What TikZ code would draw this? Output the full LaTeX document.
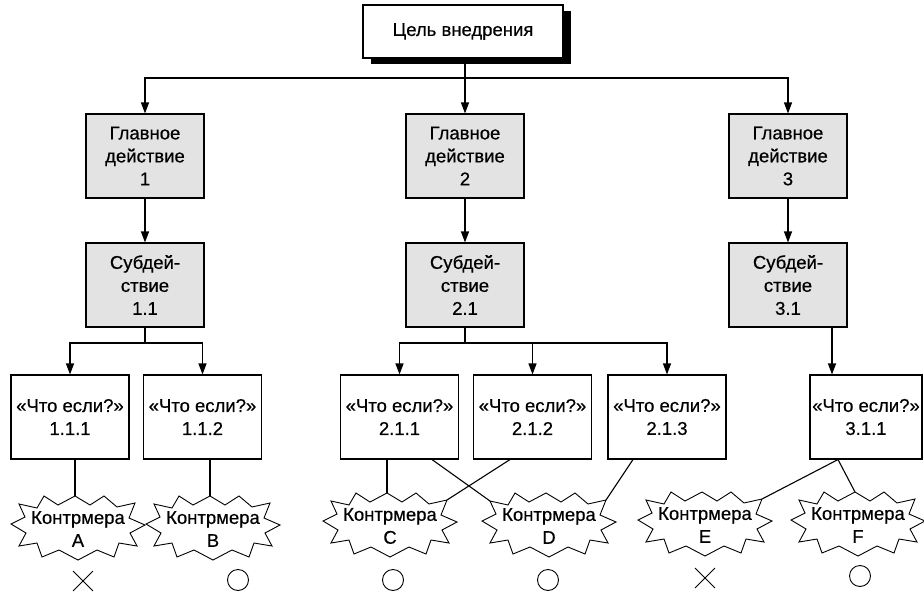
\documentclass[tikz,border=0pt]{standalone}
\usepackage{fontspec}
\setmainfont[FakeBold=0.5]{Liberation Sans}
\usetikzlibrary{arrows.meta,shapes.misc,shadows,calc}
\newcommand\mkburst[1]{%
  \draw[burstline] ($(#1)+(-67,-2)$) -- ($(#1)+(-53,-9)$) -- ($(#1)+(-59,-22)$) -- ($(#1)+(-41,-18)$)
   -- ($(#1)+(-34,-30)$) -- ($(#1)+(-20,-21)$) -- ($(#1)+(-3,-30)$) -- ($(#1)+(12,-21)$)
   -- ($(#1)+(26,-30)$) -- ($(#1)+(39,-19)$) -- ($(#1)+(57,-23)$) -- ($(#1)+(51,-8)$)
   -- ($(#1)+(67,-1)$) -- ($(#1)+(52,7)$) -- ($(#1)+(59,20)$) -- ($(#1)+(41,17)$)
   -- ($(#1)+(36,31)$) -- ($(#1)+(19,24)$) -- ($(#1)+(0,34)$) -- ($(#1)+(-19,24)$)
   -- ($(#1)+(-36,31)$) -- ($(#1)+(-41,17)$) -- ($(#1)+(-59,20)$) -- ($(#1)+(-52,7)$) -- cycle;}
\begin{document}
\begin{tikzpicture}[x=1pt,y=-1pt,
  txt/.style={font=\fontsize{18.5}{23}\selectfont, align=center},
  box/.style={txt, draw, line width=1.1pt, minimum width=118pt, minimum height=84pt, inner sep=2pt},
  grey/.style={box, fill=black!11},
  topbox/.style={txt, draw, line width=1.1pt, fill=white, minimum width=200pt, minimum height=53pt,
     drop shadow={shadow xshift=8pt, shadow yshift=-6pt, fill=black, opacity=1}},
  cmtext/.style={txt, inner sep=0pt},
  burstline/.style={line width=0.9pt, line join=miter},
  arr/.style={line width=1.1pt, -{Triangle[length=11pt,width=8pt]}},
  ln/.style={line width=1.1pt},
  okmark/.style={draw, circle, line width=0.9pt, minimum size=21pt, inner sep=0pt},
  nomark/.style={draw, cross out, line width=0.9pt, minimum size=19pt, inner sep=0pt}]
\useasboundingbox (0,0) rectangle (924,597);

\node[topbox] (top) at (463,31.5) {Цель внедрения};

\node[grey] (m1) at (145,156) {Главное\\действие\\1};
\node[grey] (m2) at (465,156) {Главное\\действие\\2};
\node[grey] (m3) at (788,156) {Главное\\действие\\3};

\node[grey] (s1) at (145,285) {Субдей-\\ствие\\1.1};
\node[grey] (s2) at (465,285) {Субдей-\\ствие\\2.1};
\node[grey] (s3) at (788,285) {Субдей-\\ствие\\3.1};

\node[box] (q111) at (70,417) {«Что если?»\\1.1.1};
\node[box] (q112) at (202.5,417) {«Что если?»\\1.1.2};
\node[box] (q211) at (399.5,417) {«Что если?»\\2.1.1};
\node[box] (q212) at (532.5,417) {«Что если?»\\2.1.2};
\node[box] (q213) at (667,417) {«Что если?»\\2.1.3};
\node[box, minimum width=112pt] (q311) at (866,417) {«Что если?»\\3.1.1};

% countermeasure bursts
\coordinate (Ab) at (78,526);
\coordinate (Bb) at (213,526);
\coordinate (Cb) at (390,523);
\coordinate (Db) at (549,523);
\coordinate (Eb) at (705,522);
\coordinate (Fb) at (858,522);
\mkburst{Ab}\mkburst{Bb}\mkburst{Cb}\mkburst{Db}\mkburst{Eb}\mkburst{Fb}
\node[cmtext] (A) at ($(Ab)+(0,3)$) {Контрмера\\A};
\node[cmtext] (B) at ($(Bb)+(0,3)$) {Контрмера\\B};
\node[cmtext] (C) at ($(Cb)+(0,3)$) {Контрмера\\C};
\node[cmtext] (D) at ($(Db)+(0,3)$) {Контрмера\\D};
\node[cmtext] (E) at ($(Eb)+(0,3)$) {Контрмера\\E};
\node[cmtext] (F) at ($(Fb)+(0,3)$) {Контрмера\\F};

\node[nomark] (xA) at (83,581) {};
\node[okmark] (oB) at (238,580) {};
\node[okmark] (oC) at (393,580) {};
\node[okmark] (oD) at (548,580) {};
\node[nomark] (xE) at (705,578) {};
\node[okmark] (oF) at (860,576) {};

% top branching
\coordinate (t) at (465,78);
\draw[ln] (top.south -| t) -- (t);
\draw[arr] (t) -| (m1.north);
\draw[arr] (t) -- (m2.north);
\draw[arr] (t) -| (m3.north);

\draw[arr] (m1) -- (s1);
\draw[arr] (m2) -- (s2);
\draw[arr] (m3) -- (s3);

% sub branching
\coordinate (b1) at (145,343);
\coordinate (b2) at (465,343);
\draw[ln] (s1.south) -- (b1);
\draw[arr] (b1) -| (q111.north);
\draw[arr] (b1) -| (q112.north);
\draw[ln] (s2.south) -- (b2);
\draw[arr] (b2) -| (q211.north);
\draw[arr] (b2) -| (q212.north);
\draw[arr] (b2) -| (q213.north);
\draw[arr] ([xshift=44pt]s3.south) -- ([xshift=44pt]s3.south |- q311.north);

% what-if to countermeasures
\coordinate (At) at ($(Ab)+(-3,-30)$);
\coordinate (Bt) at ($(Bb)+(-3,-30)$);
\coordinate (Ct) at ($(Cb)+(-3,-30)$);
\draw[ln] (At |- q111.south) -- (At);
\draw[ln] (Bt |- q112.south) -- (Bt);
\draw[ln] (Ct |- q211.south) -- (Ct);
\draw[ln] ([xshift=32.5pt]q211.south) -- ($(Db)+(-59,-22)$);
\draw[ln] ([xshift=-22.5pt]q212.south) -- ($(Cb)+(57,-23)$);
\draw[ln] ([xshift=-34pt]q213.south) -- ($(Db)+(57,-23)$);
\draw[ln] ([xshift=-28pt]q311.south) -- ($(Eb)+(57,-23)$);
\draw[ln] ([xshift=-28pt]q311.south) -- ($(Fb)+(-3,-30)$);
\end{tikzpicture}
\end{document}
